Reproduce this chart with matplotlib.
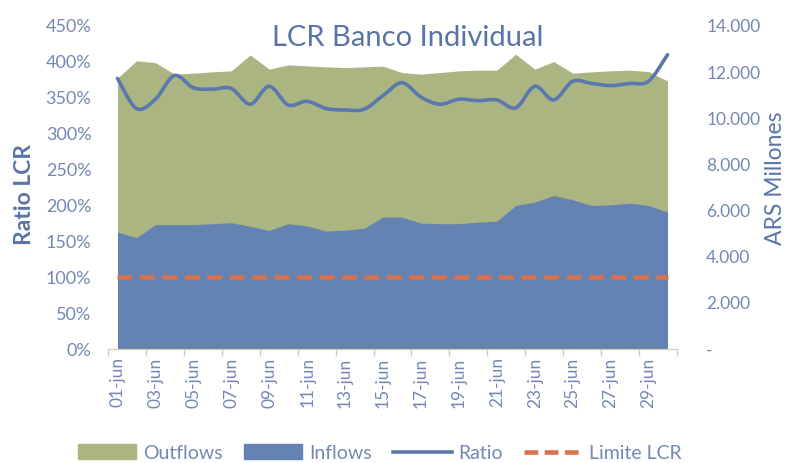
import numpy as np
import matplotlib
matplotlib.use("Agg")
import matplotlib.pyplot as plt
from matplotlib.path import Path
from matplotlib.patches import PathPatch, Patch
from matplotlib.lines import Line2D

plt.rcParams['font.family'] = ['Lato', 'DejaVu Sans']

# ---- datos ----
dias = ["%02d-jun" % d for d in range(1, 31)]
outflows = [11740, 12490, 12415, 11913, 11956, 12012, 12056, 12747, 12129, 12315,
            12272, 12228, 12198, 12228, 12259, 11982, 11913, 11982, 12056, 12086,
            12086, 12777, 12129, 12457, 11956, 12012, 12056, 12086, 12025, 11623]
inflows = [5069, 4827, 5388, 5388, 5388, 5431, 5475, 5315, 5142, 5431,
           5336, 5112, 5155, 5228, 5717, 5717, 5457, 5431, 5431, 5500,
           5544, 6222, 6365, 6654, 6469, 6222, 6252, 6322, 6222, 5933]
ratio = [377, 335, 348, 381, 364, 362, 363, 341, 366, 340,
         345, 335, 333, 334, 353, 371, 351, 341, 348, 346,
         347, 336, 366, 347, 373, 370, 367, 370, 373, 410]
limite = [100] * 30

c_out = '#ABB582'
c_in = '#6583B2'
c_ratio = '#5A78AE'
c_lim = '#D9724C'
c_txt = '#7587B4'
c_lab = '#5B74A8'

x = np.arange(len(dias))

fig = plt.figure(figsize=(7.85, 4.63), dpi=100)
ax = fig.add_axes([108/785, 114/463, 569/785, 323/463])
ax2 = ax.twinx()
ax.set_zorder(ax2.get_zorder() + 1)
ax.patch.set_visible(False)

# areas (eje derecho)
ax2.fill_between(x, 0, outflows, color=c_out, lw=0)
ax2.fill_between(x, 0, inflows, color=c_in, lw=0)
ax2.set_ylim(0, 14000)
ax2.set_yticks(range(0, 14001, 2000))
ax2.set_yticklabels(['-'] + ['{:,}'.format(v).replace(',', '.') for v in range(2000, 14001, 2000)])

# ratio suavizado (bezier tipo excel)
r = np.array(ratio, dtype=float)
pts = np.column_stack([x, r])
verts = [pts[0]]
codes = [Path.MOVETO]
n = len(pts)
for i in range(n - 1):
    p0 = pts[i - 1] if i > 0 else pts[i]
    p1 = pts[i]
    p2 = pts[i + 1]
    p3 = pts[i + 2] if i + 2 < n else pts[i + 1]
    verts += [p1 + (p2 - p0) / 6, p2 - (p3 - p1) / 6, p2]
    codes += [Path.CURVE4] * 3
ax.add_patch(PathPatch(Path(verts, codes), fill=False, edgecolor=c_ratio, lw=2.6,
                       capstyle='round', joinstyle='round'))

ax.plot(x, limite, color=c_lim, lw=3.3, dashes=(3.2, 1.7), dash_capstyle='butt')

ax.set_xlim(-0.5, 29.5)
ax.set_ylim(0, 450)
ax.set_yticks(range(0, 451, 50))
ax.set_yticklabels(['%d%%' % v for v in range(0, 451, 50)])

ax.set_xticks(x[::2])
ax.set_xticklabels(dias[::2], rotation=90)
ax.set_xticks(np.arange(-0.5, 30, 2), minor=True)
ax.tick_params(axis='x', which='major', length=0, pad=6, labelsize=12.5, labelcolor=c_txt)
ax.tick_params(axis='x', which='minor', length=5, color='#D9CBB6', width=1)
ax.tick_params(axis='y', length=0, labelsize=13, labelcolor=c_txt, pad=12)
ax2.tick_params(axis='y', length=0, labelsize=12.5, labelcolor=c_txt, pad=21)

for a in (ax, ax2):
    for s in ('top', 'left', 'right'):
        a.spines[s].set_visible(False)
    a.spines['bottom'].set_color('#D9CBB6')

fig.text(25/785, 1 - 195/463, 'Ratio LCR', rotation=90, ha='center', va='center',
         fontsize=16.5, color=c_lab, fontweight='bold')
fig.text(776/785, 1 - 178/463, 'ARS Millones', rotation=90, ha='center', va='center',
         fontsize=16.5, color=c_lab)

fig.text(408/785, 1 - 38/463, 'LCR Banco Individual', ha='center', va='center',
         fontsize=21, color=c_lab)

handles = [Patch(color=c_out), Patch(color=c_in),
           Line2D([], [], color=c_ratio, lw=2.6),
           Line2D([], [], color=c_lim, lw=3.3, dashes=(3.0, 1.4), dash_capstyle='butt')]
fig.legend(handles, ['Outflows', 'Inflows', 'Ratio', 'Limite LCR'], loc='center',
           bbox_to_anchor=(380/785, 1 - 453/463), ncol=4, frameon=False,
           fontsize=14, labelcolor=c_txt, handlelength=3.0, handleheight=0.8,
           handletextpad=0.35, columnspacing=1.1)

fig.savefig('out.png', dpi=100)
